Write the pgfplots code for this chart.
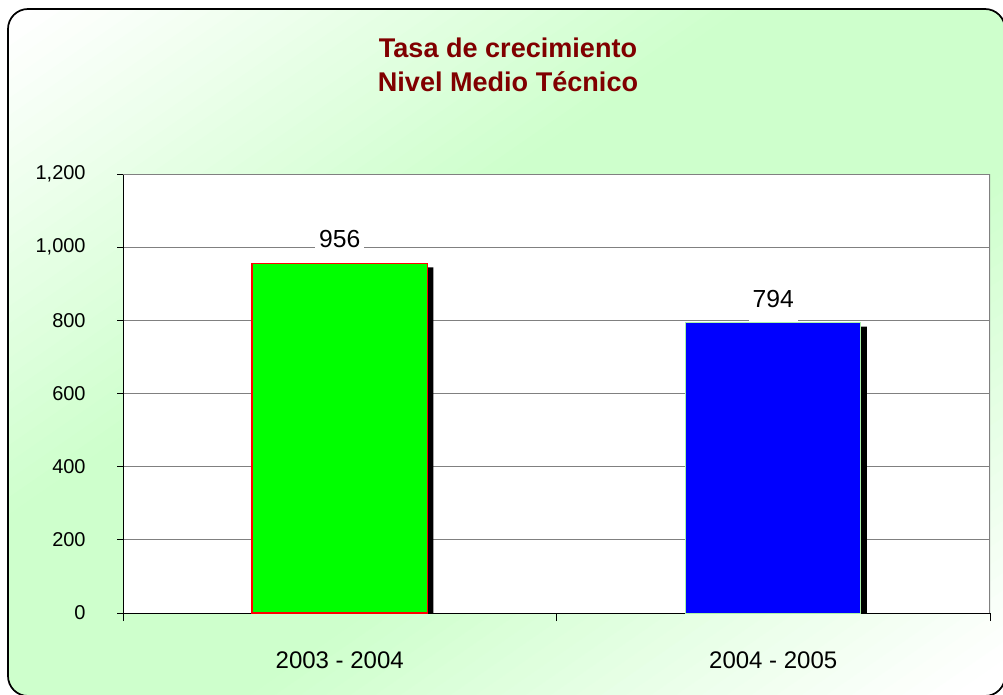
\documentclass[border=0pt]{standalone}
\usepackage{fontspec}
\setmainfont{Liberation Sans}
\usepackage{pgfplots}
\pgfplotsset{compat=1.18}
\definecolor{titlered}{RGB}{128,0,0}
\definecolor{bggreen}{RGB}{206,255,204}
\definecolor{barborder}{RGB}{170,240,170}
\definecolor{gridgray}{RGB}{128,128,128}

\begin{document}
\begin{tikzpicture}
\clip (0,0) rectangle (752.25pt,520.5pt);
\fill[white] (0,0) rectangle (752.25pt,520.5pt);
% diagonal gradient: white at top-left and bottom-right, green along the other diagonal
\begin{scope}
  \clip[rounded corners=15pt] (6pt,-1.5pt) rectangle (753.75pt,513.75pt);
  \foreach \i in {0,...,79} {
    \pgfmathsetmacro{\ya}{520.5*(-1+\i*0.025)}
    \pgfmathsetmacro{\yb}{\ya+520.5*0.03}
    \pgfmathsetmacro{\yc}{\ya+520.5}
    \pgfmathsetmacro{\yd}{\yb+520.5}
    \pgfmathsetmacro{\pc}{100*max(0,min(1,(0.95-abs(-1+\i*0.025+0.0125))/0.7))}
    \fill[bggreen!\pc!white] (0pt,\ya pt) -- (752.25pt,\yc pt)
      -- (752.25pt,\yd pt) -- (0pt,\yb pt) -- cycle;
  }
\end{scope}
\draw[line width=1.3pt, rounded corners=15pt] (6pt,-1.5pt) rectangle (753.75pt,513.75pt);

\node[anchor=base, font=\bfseries\fontsize{20.3}{24}\selectfont, text=titlered] at (381pt,477pt) {Tasa de crecimiento};
\node[anchor=base, font=\bfseries\fontsize{20.3}{24}\selectfont, text=titlered] at (381pt,451.5pt) {Nivel Medio Técnico};

\begin{axis}[
    at={(92.25pt,60.75pt)}, anchor=south west,
    scale only axis, width=650.25pt, height=329.25pt,
    xmin=-0.5, xmax=1.5, ymin=0, ymax=1200,
    ytick={0,200,...,1200},
    xtick={0,1}, xticklabels={2003 - 2004, 2004 - 2005},
    minor xtick={-0.5,0.5,1.5},
    major x tick style={draw=none},
    tick align=outside,
    major tick length=4.5pt, minor tick length=6pt,
    tick style={black, line width=0.75pt},
    axis x line*=bottom, axis y line*=left,
    axis line style={black, line width=0.75pt},
    ymajorgrids, grid style={gridgray, line width=0.75pt},
    axis background/.style={fill=white},
    ybar, bar width=0.404,
    /pgf/number format/assume math mode=true,
    yticklabel style={font=\fontsize{15}{18}\selectfont, xshift=-20pt},
    xticklabel style={font=\fontsize{18}{21}\selectfont, anchor=base, yshift=-36.75pt},
  ]
  % shadows
  \addplot[fill=black, draw=none, bar shift=4.5pt, yshift=-3pt] coordinates {(0,956) (1,794)};
  \addplot[fill={rgb,255:red,0;green,255;blue,0}, draw=red, line width=1.1pt, bar shift=0pt,
    nodes near coords,
    every node near coord/.append style={font=\fontsize{18.5}{21}\selectfont, text=black, fill=white,
      anchor=south, text depth=0pt, inner xsep=3pt, inner ysep=11pt}]
    coordinates {(0,956)};
  \addplot[fill={rgb,255:red,0;green,0;blue,255}, draw=barborder, line width=0.75pt, bar shift=0pt,
    nodes near coords,
    every node near coord/.append style={font=\fontsize{18.5}{21}\selectfont, text=black, fill=white,
      anchor=south, text depth=0pt, inner xsep=3pt, inner ysep=11pt}]
    coordinates {(1,794)};
  \draw[gridgray, line width=2pt] (rel axis cs:0,1) -- (rel axis cs:1,1) -- (rel axis cs:1,0);
\end{axis}
\end{tikzpicture}
\end{document}
